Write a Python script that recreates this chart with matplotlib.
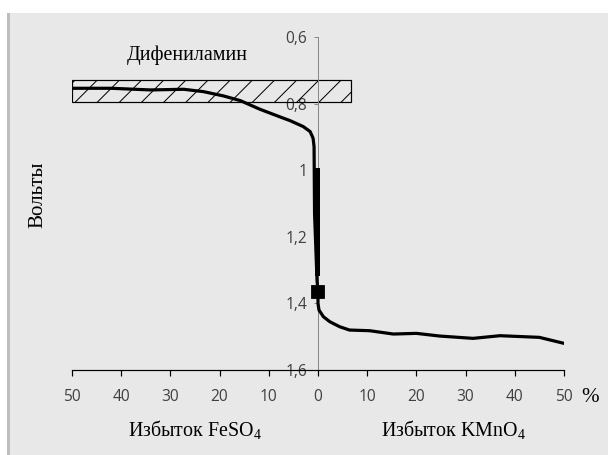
import matplotlib
matplotlib.use("Agg")
from matplotlib import pyplot as plt
from matplotlib.patches import Rectangle
import numpy as np

# --- data (x: excess %, negative side = FeSO4) ---
curve_x = [-50, -42, -34, -27.3, -23.3, -19.2, -15.8, -11.8, -7, -5.7, -3,
           -1.6, -1.0, -0.8, -0.7, -0.2, 0, 0, 0.2, 1.1, 2.4, 4.4, 6.4,
           10.5, 15.3, 20, 24.7, 31.5, 37, 45, 50]
curve_y = [0.754, 0.754, 0.759, 0.757, 0.764, 0.777, 0.791, 0.817, 0.844,
           0.851, 0.869, 0.884, 0.904, 0.929, 1.13, 1.33, 1.365, 1.40, 1.42,
           1.44, 1.455, 1.47, 1.48, 1.482, 1.492, 1.49, 1.498, 1.505, 1.497,
           1.502, 1.52]
jump_x = [-0.3, -0.3]
jump_y = [1.0, 1.31]
equiv_x = [0]
equiv_y = [1.365]

indicator_name = "Дифениламин"
indicator_x = [-50, 6.7]
indicator_y = [0.729, 0.795]

x_ticks = [-50, -40, -30, -20, -10, 0, 10, 20, 30, 40, 50]
x_labels = ["50", "40", "30", "20", "10", "0", "10", "20", "30", "40", "50"]
y_ticks = [0.6, 0.8, 1.0, 1.2, 1.4, 1.6]
y_labels = ["0,6", "0,8", "1", "1,2", "1,4", "1,6"]

DPI = 133


def px(v):
    # pixels -> points at this dpi
    return v * 72.0 / DPI


plt.rcParams["mathtext.fontset"] = "custom"
plt.rcParams["mathtext.rm"] = "Liberation Serif"
plt.rcParams["hatch.linewidth"] = px(1.0)

fig = plt.figure(figsize=(608 / DPI, 455 / DPI), dpi=DPI)
fig.patch.set_facecolor("white")
# grey panel with the darker left strip
fig.patches.append(Rectangle((7 / 608, 0), 1 - 7 / 608, 1 - 13 / 455,
                             transform=fig.transFigure, facecolor="#e8e8e8",
                             edgecolor="none", zorder=-10))
fig.patches.append(Rectangle((7 / 608, 0), 3 / 608, 1 - 13 / 455,
                             transform=fig.transFigure, facecolor="#bebebe",
                             edgecolor="none", zorder=-10))

ax = fig.add_axes([72 / 608, 85 / 455, (564 - 72) / 608, (370 - 37) / 455])
ax.patch.set_visible(False)

ax.set_xlim(-50, 50)
ax.set_ylim(1.6, 0.6)

ax.spines["top"].set_visible(False)
ax.spines["right"].set_visible(False)
ax.spines["left"].set_position(("data", 0))
ax.spines["left"].set_color("#888888")
ax.spines["left"].set_linewidth(px(1))
ax.spines["bottom"].set_color("black")
ax.spines["bottom"].set_linewidth(px(1.2))

ax.set_xticks(x_ticks)
ax.set_xticklabels(x_labels)
ax.set_yticks(y_ticks)
ax.set_yticklabels(y_labels)
ax.tick_params(axis="x", direction="out", length=px(6), width=px(1.2),
               color="black", labelsize=px(15.5), labelcolor="#404040",
               pad=px(13))
ax.tick_params(axis="y", direction="out", length=px(4), width=px(1),
               color="#888888", labelsize=px(15.5), labelcolor="#404040",
               pad=px(7))
for lab in ax.get_xticklabels() + ax.get_yticklabels():
    lab.set_family(["Open Sans", "DejaVu Sans"])

# indicator range box
ax.add_patch(Rectangle((indicator_x[0], indicator_y[0]),
                       indicator_x[1] - indicator_x[0],
                       indicator_y[1] - indicator_y[0],
                       facecolor="none", edgecolor="black", hatch="//",
                       linewidth=px(1.2), zorder=2))
ax.text((indicator_x[0] + indicator_x[1]) / 2 - 5, 0.655, indicator_name,
        ha="center", va="center", family="Liberation Serif",
        fontsize=px(20), color="black")

# titration curve
ax.plot(curve_x, curve_y, color="black", linewidth=px(3.2),
        solid_capstyle="round", solid_joinstyle="round", zorder=3)
ax.plot(jump_x, jump_y, color="black", linewidth=px(5), zorder=3)
ax.plot(equiv_x, equiv_y, marker="s", color="black", markersize=px(12),
        zorder=4)

# labels
fig.text(38 / 608, 1 - 195 / 455, "Вольты", rotation=90, ha="center",
         va="center", family="Liberation Serif", fontsize=px(21))
fig.text(195 / 608, 1 - 430 / 455, "Избыток FeSO$_4$", ha="center",
         va="center", family="Liberation Serif", fontsize=px(20))
fig.text(454 / 608, 1 - 430 / 455, "Избыток KMnO$_4$", ha="center",
         va="center", family="Liberation Serif", fontsize=px(20))
fig.text(590 / 608, 1 - 397 / 455, "%", ha="center", va="center",
         family="Liberation Serif", fontsize=px(21))

fig.savefig("out.png", dpi=DPI)
